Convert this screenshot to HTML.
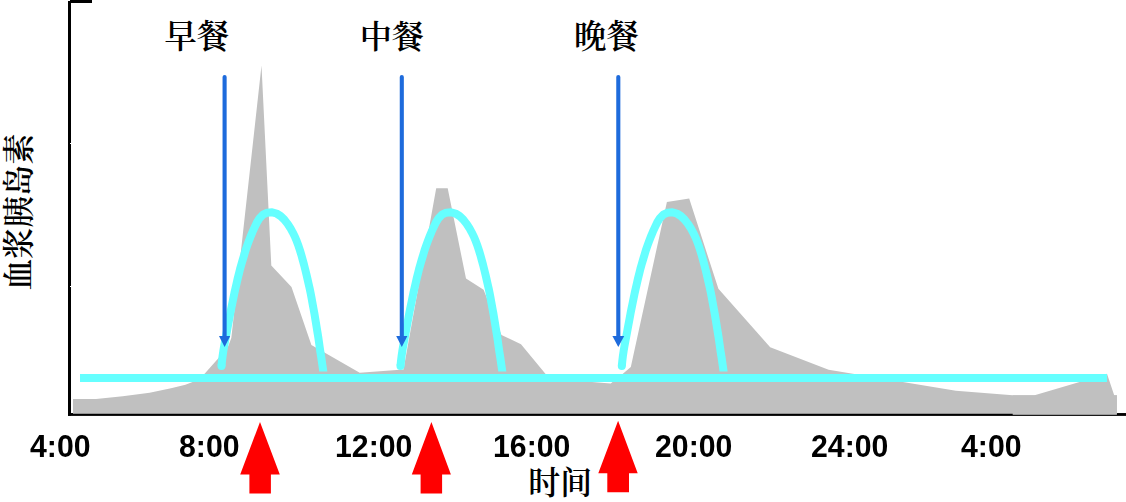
<!DOCTYPE html>
<html><head><meta charset="utf-8"><title>chart</title>
<style>
html,body{margin:0;padding:0;background:#fff;}
body{width:1126px;height:502px;position:relative;overflow:hidden;font-family:"Liberation Sans",sans-serif;}
svg{position:absolute;left:0;top:0;display:block;}
.t{position:absolute;font-family:"Liberation Sans",sans-serif;font-weight:bold;font-size:30px;line-height:30px;color:#000;white-space:nowrap;will-change:transform;filter:grayscale(1);transform-origin:0 0;transform:scale(1.008,1.06);}
</style></head><body>
<svg width="1126" height="502" viewBox="0 0 1126 502">
<rect x="68" y="1" width="3" height="414.7" fill="#000"/>
<rect x="70" y="0" width="22" height="3" fill="#000"/>
<rect x="68" y="413.05" width="1058" height="2.85" fill="#000"/>
<rect x="70" y="143" width="1" height="1" fill="#fff"/><rect x="70" y="286" width="1" height="1" fill="#fff"/>
<polygon points="73,413.7 73,399 96,399 122.7,396.3 149.6,392.7 171,388.2 185.4,384.7 192.6,382 204.6,373.7 217.7,358.9 228.2,346.2 231.3,338 261.5,65.6 271.3,265.4 291.5,287.1 311.4,345 359.7,372.8 400,369.8 403.5,369.5 436.2,188.3 447.7,188.3 466,278.6 483.6,289.8 501.5,335 521,344.3 545.6,374 547.5,377 592,382 610.7,383.5 622.9,373.7 630.8,366.9 666.9,201.9 689.2,198.6 718.4,288.8 770.2,347.3 828.6,369.8 955.9,390.7 1012.7,395.3 1034.6,395.3 1080.4,381.8 1107,373.8 1114.2,395.3 1116.9,395.3 1116.9,413.7" fill="#c0c0c0"/>
<rect x="1012.7" y="395.3" width="104.2" height="19.5" fill="#c0c0c0"/>
<rect x="80" y="374" width="1027" height="8" fill="#66ffff"/>
<clipPath id="ac"><rect x="200" y="190" width="160" height="181.6"/></clipPath>
<g transform="translate(0 0)"><g clip-path="url(#ac)"><path d="M221.5,366.0 L222.0,361.0 L222.6,356.1 L223.3,351.2 L224.1,346.4 L225.0,341.6 L225.9,336.7 L226.8,331.9 L227.7,327.1 L228.6,322.2 L229.5,317.4 L230.4,312.5 L231.4,307.6 L232.4,302.7 L233.4,297.9 L234.4,293.0 L235.5,288.2 L236.6,283.3 L237.7,278.5 L238.9,273.7 L240.1,268.9 L241.4,264.2 L242.8,259.5 L244.2,254.8 L245.6,250.1 L247.2,245.5 L248.9,240.9 L250.7,236.3 L252.6,231.7 L254.7,227.1 L256.9,222.5 L259.6,218.2 L262.9,214.7 L267.3,212.7 L272.1,212.3 L276.5,213.5 L280.5,216.0 L284.2,219.5 L287.4,223.6 L290.3,227.9 L292.7,232.3 L294.9,236.7 L296.8,241.3 L298.5,245.9 L300.0,250.5 L301.4,255.2 L302.7,259.9 L304.0,264.6 L305.2,269.4 L306.4,274.2 L307.5,279.0 L308.6,283.8 L309.7,288.6 L310.7,293.5 L311.6,298.3 L312.5,303.2 L313.4,308.1 L314.3,312.9 L315.1,317.8 L315.9,322.7 L316.7,327.6 L317.5,332.5 L318.3,337.4 L319.0,342.3 L319.7,347.2 L320.4,352.1 L321.2,357.0 L321.9,361.9 L322.6,366.7 L323.3,371.6 l0.4,3" fill="none" stroke="#66ffff" stroke-width="8.0" stroke-linecap="butt" stroke-linejoin="round"/></g><circle cx="221.5" cy="366" r="4.0" fill="#66ffff"/></g>
<g transform="translate(179.0 0)"><g clip-path="url(#ac)"><path d="M221.5,366.0 L222.0,361.0 L222.6,356.1 L223.3,351.2 L224.1,346.4 L225.0,341.6 L225.9,336.7 L226.8,331.9 L227.7,327.1 L228.6,322.2 L229.5,317.4 L230.4,312.5 L231.4,307.6 L232.4,302.7 L233.4,297.9 L234.4,293.0 L235.5,288.2 L236.6,283.3 L237.7,278.5 L238.9,273.7 L240.1,268.9 L241.4,264.2 L242.8,259.5 L244.2,254.8 L245.6,250.1 L247.2,245.5 L248.9,240.9 L250.7,236.3 L252.6,231.7 L254.7,227.1 L256.9,222.5 L259.6,218.2 L262.9,214.7 L267.3,212.7 L272.1,212.3 L276.5,213.5 L280.5,216.0 L284.2,219.5 L287.4,223.6 L290.3,227.9 L292.7,232.3 L294.9,236.7 L296.8,241.3 L298.5,245.9 L300.0,250.5 L301.4,255.2 L302.7,259.9 L304.0,264.6 L305.2,269.4 L306.4,274.2 L307.5,279.0 L308.6,283.8 L309.7,288.6 L310.7,293.5 L311.6,298.3 L312.5,303.2 L313.4,308.1 L314.3,312.9 L315.1,317.8 L315.9,322.7 L316.7,327.6 L317.5,332.5 L318.3,337.4 L319.0,342.3 L319.7,347.2 L320.4,352.1 L321.2,357.0 L321.9,361.9 L322.6,366.7 L323.3,371.6 l0.4,3" fill="none" stroke="#66ffff" stroke-width="8.0" stroke-linecap="butt" stroke-linejoin="round"/></g><circle cx="221.5" cy="366" r="4.0" fill="#66ffff"/></g>
<g transform="translate(400.3 0)"><g clip-path="url(#ac)"><path d="M221.5,366.0 L222.0,361.0 L222.6,356.1 L223.3,351.2 L224.1,346.4 L225.0,341.6 L225.9,336.7 L226.8,331.9 L227.7,327.1 L228.6,322.2 L229.5,317.4 L230.4,312.5 L231.4,307.6 L232.4,302.7 L233.4,297.9 L234.4,293.0 L235.5,288.2 L236.6,283.3 L237.7,278.5 L238.9,273.7 L240.1,268.9 L241.4,264.2 L242.8,259.5 L244.2,254.8 L245.6,250.1 L247.2,245.5 L248.9,240.9 L250.7,236.3 L252.6,231.7 L254.7,227.1 L256.9,222.5 L259.6,218.2 L262.9,214.7 L267.3,212.7 L272.1,212.3 L276.5,213.5 L280.5,216.0 L284.2,219.5 L287.4,223.6 L290.3,227.9 L292.7,232.3 L294.9,236.7 L296.8,241.3 L298.5,245.9 L300.0,250.5 L301.4,255.2 L302.7,259.9 L304.0,264.6 L305.2,269.4 L306.4,274.2 L307.5,279.0 L308.6,283.8 L309.7,288.6 L310.7,293.5 L311.6,298.3 L312.5,303.2 L313.4,308.1 L314.3,312.9 L315.1,317.8 L315.9,322.7 L316.7,327.6 L317.5,332.5 L318.3,337.4 L319.0,342.3 L319.7,347.2 L320.4,352.1 L321.2,357.0 L321.9,361.9 L322.6,366.7 L323.3,371.6 l0.4,3" fill="none" stroke="#66ffff" stroke-width="8.0" stroke-linecap="butt" stroke-linejoin="round"/></g><circle cx="221.5" cy="366" r="4.0" fill="#66ffff"/></g>
<line x1="224.6" y1="77.05" x2="224.6" y2="337.1" stroke="#1e6bdc" stroke-width="4.1" stroke-linecap="round"/><polygon points="219.0,336.1 230.2,336.1 224.6,347.1" fill="#1e6bdc"/>
<line x1="401.8" y1="77.05" x2="401.8" y2="337.1" stroke="#1e6bdc" stroke-width="4.1" stroke-linecap="round"/><polygon points="396.2,336.1 407.40000000000003,336.1 401.8,347.1" fill="#1e6bdc"/>
<line x1="618.3" y1="77.05" x2="618.3" y2="337.1" stroke="#1e6bdc" stroke-width="4.1" stroke-linecap="round"/><polygon points="612.4,336.1 624.1999999999999,336.1 618.3,347.1" fill="#1e6bdc"/>
<g fill="#ff0000">
<polygon points="260,422 279.8,474.5 270.9,474.5 270.9,493.4 249.4,493.4 249.4,474.5 240.2,474.5"/>
<polygon points="431.4,422 450.9,474.5 442.1,474.5 442.1,493.4 420.6,493.4 420.6,474.5 411.8,474.5"/>
<polygon points="618.1,420.7 637.7,473.2 629,473.2 629,492.2 607.3,492.2 607.3,473.2 598.3,473.2"/>
</g>
<g fill="#000" font-family="'Liberation Serif','Noto Serif CJK SC',serif" font-weight="600">
<text x="164.3" y="48.2" font-size="32.5" textLength="65" lengthAdjust="spacing">早餐</text>
<text x="359.65" y="48.2" font-size="32.2" textLength="64.3" lengthAdjust="spacing">中餐</text>
<text x="574.1" y="48.2" font-size="32.4" textLength="64.9" lengthAdjust="spacing">晚餐</text>
<text x="528.3" y="493.8" font-size="31.9" textLength="63.8" lengthAdjust="spacing">时间</text>
<text transform="translate(30.4 290.3) rotate(-90)" x="0" y="0" font-size="31.3" textLength="156.8" lengthAdjust="spacing">血浆胰岛素</text>
</g>
</svg>
<div class="t" style="left:30.3px;top:430.0px">4:00</div>
<div class="t" style="left:179px;top:430.0px">8:00</div>
<div class="t" style="left:334.7px;top:430.0px">12:00</div>
<div class="t" style="left:492.5px;top:430.0px">16:00</div>
<div class="t" style="left:654.9px;top:430.0px">20:00</div>
<div class="t" style="left:811.0px;top:430.0px">24:00</div>
<div class="t" style="left:961.3px;top:430.0px">4:00</div>
</body></html>
